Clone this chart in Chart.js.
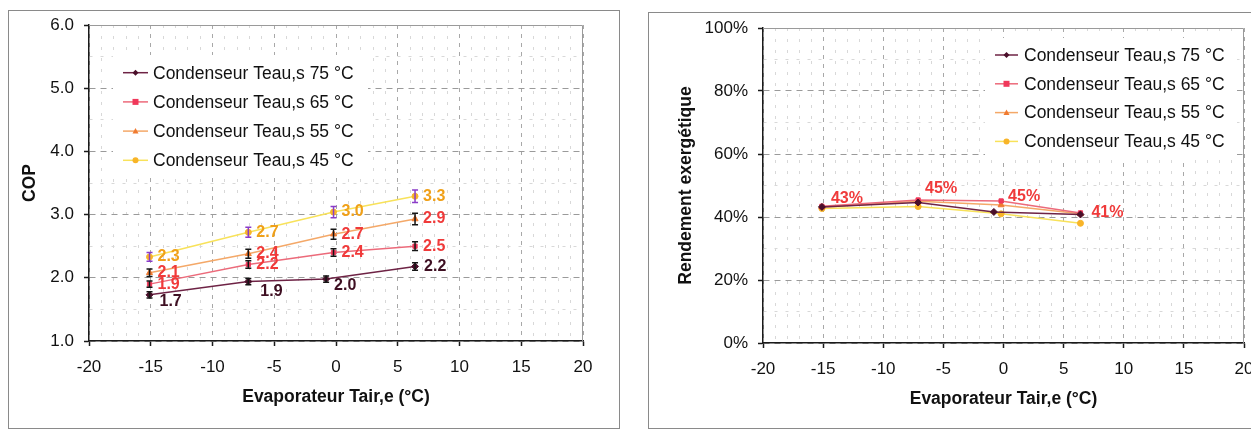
<!DOCTYPE html>
<html lang="fr">
<head>
  <meta charset="UTF-8">
  <title>COP et rendement exergétique</title>
  <script src="https://cdn.jsdelivr.net/npm/chart.js"></script>
  <style>
    body {
      margin: 0;
      background: #fff;
      width: 1251px;
      height: 431px;
      overflow: hidden;
      position: relative;
    }
    .cadre {
      position: absolute;
      border: 1px solid #8a8a8a;
      box-sizing: border-box;
    }
    #cadreCop { left: 8px; top: 10px; width: 612px; height: 419px; }
    #cadreRend { left: 648px; top: 12px; width: 640px; height: 417px; }
    canvas { position: absolute; }
    #graphCop { left: 9px; top: 11px; }
    #graphRend { left: 649px; top: 13px; }
  </style>
</head>
<body>
  <div class="cadre" id="cadreCop"></div>
  <div class="cadre" id="cadreRend"></div>
  <canvas id="graphCop" width="609" height="416"></canvas>
  <canvas id="graphRend" width="602" height="414"></canvas>

  <script>
    // Températures d'air à l'entrée de l'évaporateur (°C)
    const tairEvap   = [-15.1, -7.1, -0.2, 6.4];
    const tairEvap75 = [-15.1, -7.1, -0.8, 6.4];

    const nomsSeries = [
      "Condenseur Teau,s 75 °C",
      "Condenseur Teau,s 65 °C",
      "Condenseur Teau,s 55 °C",
      "Condenseur Teau,s 45 °C"
    ];

    // COP mesurés
    const cop75 = [1.73, 1.94, 1.98, 2.18];
    const cop65 = [1.90, 2.21, 2.40, 2.50];
    const cop55 = [2.08, 2.38, 2.69, 2.93];
    const cop45 = [2.33, 2.72, 3.04, 3.29];

    // incertitudes sur le COP (±)
    const errCop75 = [0.05, 0.05, 0.05, 0.06];
    const errCop65 = [0.05, 0.06, 0.06, 0.07];
    const errCop55 = [0.06, 0.07, 0.08, 0.09];
    const errCop45 = [0.07, 0.08, 0.09, 0.10];

    // rendement exergétique (%)
    const rend75 = [43.2, 44.6, 41.6, 40.8];
    const rend65 = [43.4, 45.4, 45.1, 41.3];
    const rend55 = [43.1, 45.0, 43.8, 41.0];
    const rend45 = [42.7, 43.3, 41.0, 38.0];

    const POLICE = 'Arial, "Liberation Sans", sans-serif';

    // styles des séries : 75, 65, 55, 45 °C (décalages des étiquettes point par point)
    const styles = [
      { ligne: "#6e2345", point: "#4a0f2a", forme: "rectRot", rayon: 3.5, texte: "#3e0f22", barre: "#151515",
        decalages: [[10, 7], [12, 10], [8, 7], [9, 0]] },
      { ligne: "#ec6a7a", point: "#f0385a", forme: "rect", rayon: 3, texte: "#f03a3a", barre: "#151515",
        decalages: [[8, 0], [8, 0], [8, 0], [8, 0]] },
      { ligne: "#f4a868", point: "#f07a30", forme: "triangle", rayon: 3.5, texte: "#f03a3a", barre: "#151515",
        decalages: [[8, 0], [8, 0], [8, 0], [8, 0]] },
      { ligne: "#f8e25a", point: "#f8b428", forme: "circle", rayon: 3, texte: "#f0a018", barre: "#8a3cc8",
        decalages: [[8, 0], [8, 0], [8, 0], [8, 0]] }
    ];

    function serie(i, xs, ys, erreurs, etiquettes) {
      const s = styles[i];
      return {
        label: nomsSeries[i],
        data: xs.map((x, k) => ({ x: x, y: ys[k] })),
        showLine: true,
        borderColor: s.ligne,
        borderWidth: 1.5,
        pointStyle: s.forme,
        pointRadius: s.rayon,
        pointBackgroundColor: s.point,
        pointBorderColor: s.point,
        pointBorderWidth: 1,
        erreurs: erreurs,
        etiquettes: etiquettes,
        style: s
      };
    }

    function estEntier(v, pas) {
      const r = v / pas;
      return Math.abs(r - Math.round(r)) < 1e-6;
    }

    function dessinerMarqueur(ctx, forme, x, y, r) {
      ctx.beginPath();
      if (forme === "rectRot") {
        ctx.moveTo(x, y - r); ctx.lineTo(x + r, y); ctx.lineTo(x, y + r); ctx.lineTo(x - r, y);
      } else if (forme === "rect") {
        ctx.rect(x - r, y - r, 2 * r, 2 * r);
      } else if (forme === "triangle") {
        ctx.moveTo(x, y - r); ctx.lineTo(x + r, y + r * 0.8); ctx.lineTo(x - r, y + r * 0.8);
      } else {
        ctx.arc(x, y, r, 0, Math.PI * 2);
      }
      ctx.closePath();
      ctx.fill();
    }

    // cadre gris en haut et à droite + fond blanc de la légende
    const fondPlot = {
      id: "fondPlot",
      beforeDatasetsDraw(chart, args, opts) {
        const { ctx, chartArea: a } = chart;
        ctx.save();
        const b = opts.boite;
        ctx.fillStyle = "#fff";
        ctx.fillRect(b[0], b[1], b[2] - b[0], b[3] - b[1]);
        ctx.strokeStyle = "#9a9a9a";
        ctx.lineWidth = 1;
        ctx.beginPath();
        ctx.moveTo(a.left, a.top + 0.5);
        ctx.lineTo(a.right - 0.5, a.top + 0.5);
        ctx.lineTo(a.right - 0.5, a.bottom);
        ctx.stroke();
        ctx.restore();
      }
    };

    // barres d'erreur, étiquettes de valeurs et légende dans le graphique
    const decor = {
      id: "decor",
      afterDatasetsDraw(chart, args, opts) {
        const ctx = chart.ctx;
        const yScale = chart.scales.y;
        ctx.save();
        chart.data.datasets.forEach((ds, i) => {
          const meta = chart.getDatasetMeta(i);
          const s = ds.style;
          if (ds.erreurs) {
            ctx.strokeStyle = s.barre;
            ctx.lineWidth = 1.5;
            meta.data.forEach((pt, k) => {
              const yh = yScale.getPixelForValue(ds.data[k].y + ds.erreurs[k]);
              const yb = yScale.getPixelForValue(ds.data[k].y - ds.erreurs[k]);
              ctx.beginPath();
              ctx.moveTo(pt.x, yh); ctx.lineTo(pt.x, yb);
              ctx.moveTo(pt.x - 3, yh); ctx.lineTo(pt.x + 3, yh);
              ctx.moveTo(pt.x - 3, yb); ctx.lineTo(pt.x + 3, yb);
              ctx.stroke();
            });
          }
          if (ds.etiquettes) {
            ctx.font = "bold " + opts.taille + "px " + POLICE;
            ctx.fillStyle = s.texte;
            ctx.textAlign = "left";
            ctx.textBaseline = "middle";
            meta.data.forEach((pt, k) => {
              const dec = opts.decalages ? opts.decalages[k] : s.decalages[k];
              ctx.fillText(ds.etiquettes[k], pt.x + dec[0], pt.y + dec[1]);
            });
          }
        });

        // légende
        const L = opts.legende;
        ctx.font = "17.5px " + POLICE;
        ctx.textAlign = "left";
        ctx.textBaseline = "middle";
        chart.data.datasets.forEach((ds, i) => {
          const y = L.y + i * L.pas;
          ctx.strokeStyle = ds.borderColor;
          ctx.lineWidth = 1.5;
          ctx.beginPath();
          ctx.moveTo(L.x1, y); ctx.lineTo(L.x2, y);
          ctx.stroke();
          ctx.fillStyle = ds.style.point;
          dessinerMarqueur(ctx, ds.style.forme, (L.x1 + L.x2) / 2, y, 3);
          ctx.fillStyle = "#111";
          ctx.fillText(ds.label, L.texte, y + 1);
        });
        ctx.restore();
      }
    };

    function echelles(p) {
      return {
        x: {
          type: "linear",
          min: -20,
          max: 20,
          afterFit(s) { s.height = p.hautAxeX; s.paddingLeft = 0; s.paddingRight = 0; },
          ticks: {
            stepSize: 1, autoSkip: false, maxRotation: 0, padding: 11, color: "#111",
            font: { size: 17, family: POLICE },
            callback: v => estEntier(v, 5) ? String(v) : ""
          },
          grid: {
            color: c => c.tick && estEntier(c.tick.value, 5) ? "#a8a8a8" : "#d8d8d8",
            lineWidth: 1,
            tickLength: 5,
            tickWidth: 1.5,
            tickColor: c => c.tick && estEntier(c.tick.value, 5) ? "#1a1a1a" : "rgba(0,0,0,0)"
          },
          border: {
            color: "#1a1a1a", width: 1.5,
            dash: c => c.tick && estEntier(c.tick.value, 5) ? [4, 5] : [3, 8]
          },
          title: {
            display: true, text: "Evaporateur Tair,e (°C)", color: "#111",
            font: { size: 17.5, weight: "bold", family: POLICE },
            padding: { top: 0, bottom: p.padTitreX }
          }
        },
        y: {
          type: "linear",
          min: p.ymin,
          max: p.ymax,
          afterFit(s) { s.width = p.largeurAxeY; s.paddingTop = 0; s.paddingBottom = 0; },
          ticks: {
            stepSize: p.pasMineur, autoSkip: false, padding: 10, color: "#111",
            font: { size: 17, family: POLICE },
            callback: v => estEntier(v, p.pasMajeur) ? p.format(v) : ""
          },
          grid: {
            color: c => c.tick && estEntier(c.tick.value, p.pasMajeur) ? "#9a9a9a" : "#d8d8d8",
            lineWidth: 1,
            tickLength: 5,
            tickWidth: 1.5,
            tickColor: c => c.tick && estEntier(c.tick.value, p.pasMajeur) ? "#1a1a1a" : "rgba(0,0,0,0)"
          },
          border: {
            color: "#1a1a1a", width: 1.5,
            dash: c => c.tick && estEntier(c.tick.value, p.pasMajeur) ? [6, 5] : [3, 8]
          },
          title: {
            display: true, text: p.titreY, color: "#111",
            font: { size: 17.5, weight: "bold", family: POLICE },
            padding: { top: p.padTitreY, bottom: 0 }
          }
        }
      };
    }

    // --- graphique COP ---
    new Chart(document.getElementById("graphCop"), {
      type: "scatter",
      data: {
        datasets: [
          serie(0, tairEvap75, cop75, errCop75, cop75.map(v => v.toFixed(1))),
          serie(1, tairEvap, cop65, errCop65, cop65.map(v => v.toFixed(1))),
          serie(2, tairEvap, cop55, errCop55, cop55.map(v => v.toFixed(1))),
          serie(3, tairEvap, cop45, errCop45, cop45.map(v => v.toFixed(1)))
        ]
      },
      options: {
        responsive: false,
        animation: false,
        layout: { padding: { left: 0, top: 14, right: 35, bottom: 0 } },
        plugins: {
          legend: { display: false },
          tooltip: { enabled: false },
          fondPlot: { boite: [104, 44, 359, 163] },
          decor: { taille: 16, legende: { x1: 114, x2: 139, texte: 144, y: 61.7, pas: 29.2 } }
        },
        scales: echelles({
          hautAxeX: 86, padTitreX: 19, largeurAxeY: 80, padTitreY: 11,
          ymin: 1, ymax: 6, pasMineur: 0.5, pasMajeur: 1, titreY: "COP",
          format: v => v.toFixed(1)
        })
      },
      plugins: [fondPlot, decor]
    });

    // --- graphique rendement exergétique ---
    new Chart(document.getElementById("graphRend"), {
      type: "scatter",
      data: {
        datasets: [
          serie(0, tairEvap75, rend75, null, null),
          serie(1, tairEvap, rend65, null, rend65.map(v => Math.round(v) + "%")),
          serie(2, tairEvap, rend55, null, null),
          serie(3, tairEvap, rend45, null, null)
        ]
      },
      options: {
        responsive: false,
        animation: false,
        layout: { padding: { left: 0, top: 15, right: 7, bottom: 0 } },
        plugins: {
          legend: { display: false },
          tooltip: { enabled: false },
          fondPlot: { boite: [336, 25, 588, 145] },
          decor: {
            taille: 16,
            decalages: [[9, -8], [7, -11], [7, -4], [11, 0]],
            legende: { x1: 346, x2: 369, texte: 375, y: 42, pas: 28.8 }
          }
        },
        scales: echelles({
          hautAxeX: 84, padTitreX: 17, largeurAxeY: 114, padTitreY: 27,
          ymin: 0, ymax: 100, pasMineur: 10, pasMajeur: 20, titreY: "Rendement exergétique",
          format: v => v + "%"
        })
      },
      plugins: [fondPlot, decor]
    });
  </script>
</body>
</html>
